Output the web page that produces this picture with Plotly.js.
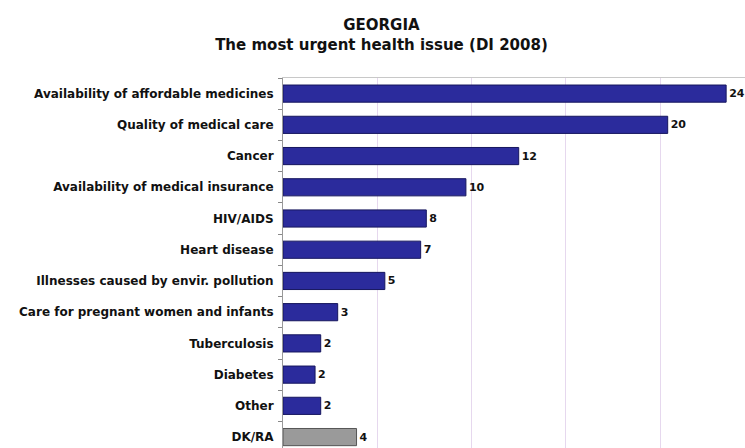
<!DOCTYPE html>
<html>
<head>
<meta charset="utf-8">
<script src="https://cdn.plot.ly/plotly-3.0.1.min.js"></script>
<style>html,body{margin:0;padding:0;background:#fff;}#chart{width:745px;height:448px;}</style>
</head>
<body>
<div id="chart"></div>
<script>
const categories = [
  "Availability of affordable medicines",
  "Quality of medical care",
  "Cancer",
  "Availability of medical insurance",
  "HIV/AIDS",
  "Heart disease",
  "Illnesses caused by envir. pollution",
  "Care for pregnant women and infants",
  "Tuberculosis",
  "Diabetes",
  "Other",
  "DK/RA"
];
// bar lengths
const values = [23.5, 20.4, 12.5, 9.7, 7.6, 7.3, 5.4, 2.9, 2.0, 1.7, 2.0, 3.9];
// printed labels
const labels = ["24", "20", "12", "10", "8", "7", "5", "3", "2", "2", "2", "4"];

const fills = categories.map(c => c === "DK/RA" ? "#9a9a9a" : "#2b2b9c");
const lines = categories.map(c => c === "DK/RA" ? "#555555" : "#16165e");

const FONT = "DejaVu Sans, Liberation Sans, Arial, sans-serif";

const trace = {
  type: "bar",
  orientation: "h",
  y: categories,
  x: values,
  text: labels,
  textposition: "outside",
  cliponaxis: false,
  textfont: {family: FONT, size: 11, color: "#111", weight: "bold"},
  width: 0.55,
  marker: {color: fills, line: {color: lines, width: 1}},
  hoverinfo: "none"
};

const layout = {
  width: 745,
  height: 448,
  margin: {l: 283, r: 0, t: 78, b: 0},
  paper_bgcolor: "#fff",
  plot_bgcolor: "#fff",
  showlegend: false,
  title: {
    text: "<b>GEORGIA</b><br><b>The most urgent health issue (DI 2008)</b>",
    x: 0.512, xanchor: "center",
    y: 0.933, yanchor: "top",
    font: {family: FONT, size: 15, color: "#111"}
  },
  xaxis: {
    side: "top",
    range: [0, 24.5],
    tick0: 0, dtick: 5,
    showticklabels: false,
    ticks: "",
    showgrid: true,
    gridcolor: "#e6d8ee",
    gridwidth: 1,
    zeroline: false,
    showline: true,
    linecolor: "#c8c8c8",
    linewidth: 1
  },
  yaxis: {
    type: "category",
    range: [11.35, -0.5],
    showline: true,
    linecolor: "#999",
    linewidth: 1,
    ticks: "outside",
    tickson: "boundaries",
    ticklen: 4,
    tickcolor: "#888",
    showgrid: false,
    zeroline: false,
    ticklabelstandoff: 6,
    tickfont: {family: FONT, size: 12, color: "#111", weight: "bold"}
  }
};

Plotly.newPlot("chart", [trace], layout, {staticPlot: true, displayModeBar: false});
</script>
</body>
</html>
